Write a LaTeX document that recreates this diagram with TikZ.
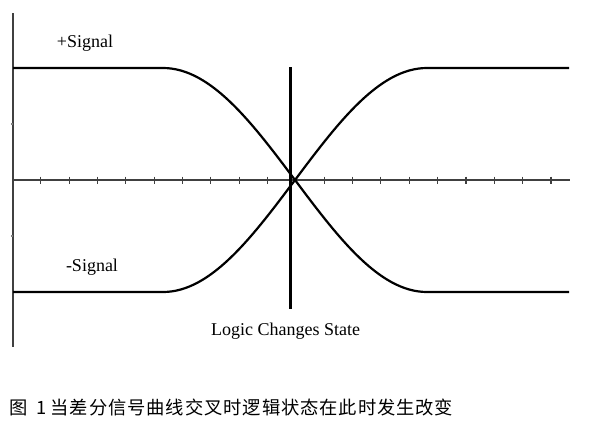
\documentclass[tikz,border=0pt]{standalone}
\usepackage{fontspec}
\setmainfont{Liberation Serif}
\newfontfamily\cjk[LetterSpace=5]{Noto Sans CJK SC}
\usetikzlibrary{positioning}

\begin{document}
\begin{tikzpicture}[x=1pt, y=-1pt,
	axisline/.style={line width=1.1pt, black!75},
	sigline/.style={line width=2.2pt, line join=round},
	lbl/.style={font=\fontsize{18}{20}\selectfont, inner sep=0pt}]
	\useasboundingbox (0,0) rectangle (590,426);
	% axes
	\coordinate (ytop) at (13,13);
	\coordinate (ybot) at (13,347);
	\coordinate (origin) at (13,180);
	\coordinate (xend) at (570,180);
	\draw[axisline] (ytop) -- (ybot);
	\draw[axisline] (origin) -- (xend);
	\foreach \k in {0,...,8,10,11,...,18}
		\draw[axisline] ({40.7+28.35*\k},176.5) -- ++(0,7);
	\foreach \yy in {124,236}
		\draw[axisline, black!50] (11,\yy) -- (13,\yy);
	% signal levels
	\coordinate (hiL) at (13,68);
	\coordinate (hiR) at (569,68);
	\coordinate (loL) at (13,292);
	\coordinate (loR) at (569,292);
	\draw[sigline] (hiL) -- (163,68)
		-- plot[domain=0:180, samples=60] ({163+1.46667*\x},{180-112*cos(\x)})
		-- (loR);
	\draw[sigline] (loL) -- (163,292)
		-- plot[domain=0:180, samples=60] ({163+1.46667*\x},{180+112*cos(\x)})
		-- (hiR);
	% logic threshold
	\coordinate (logictop) at (290.5,67);
	\coordinate (logicbot) at (290.5,309);
	\draw[line width=3.4pt] (logictop) -- (logicbot);
	% labels
	\node[lbl] (plus) at (85,43) {+Signal};
	\node[lbl] (minus) at (92,267) {-Signal};
	\node[lbl] (state) at (285.5,331) {Logic Changes State};
	\node[font=\cjk\fontsize{18.3}{20}\selectfont, inner sep=0pt, anchor=west] (caption) at (9,407)
		{图\hspace{9pt}1\hspace{4pt}当差分信号曲线交叉时逻辑状态在此时发生改变};
\end{tikzpicture}
\end{document}
